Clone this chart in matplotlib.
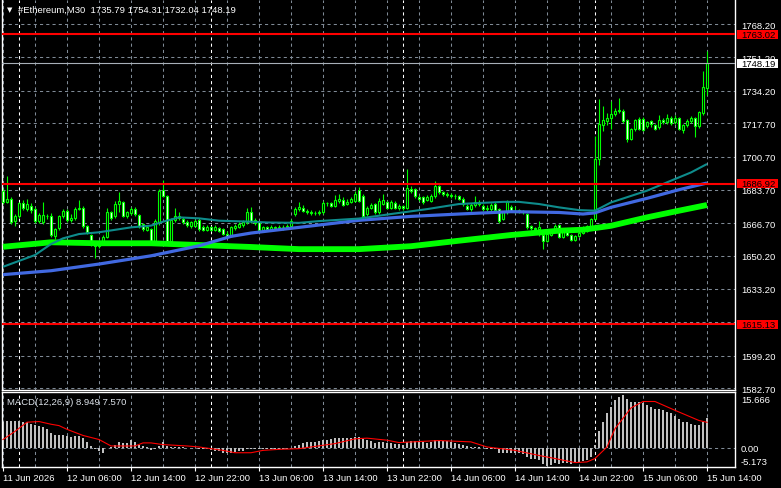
import matplotlib
matplotlib.use("Agg")
import matplotlib.pyplot as plt
import matplotlib.transforms as mtrans
from matplotlib.patches import Rectangle
import numpy as np

# ---- price data (30 min bars, 11 Jun 22:00 .. 15 Jun 14:00) ----
opens = [
    1683.3, 1677.3, 1679.3, 1667.9, 1670.2, 1676.8, 1673.9, 1675.6, 1673.9, 1667.9,
    1667.1, 1670.5, 1670.5, 1660.3, 1664.2, 1670.2, 1673.1, 1668.3, 1669.6, 1674.2,
    1674.7, 1665.4, 1660.5, 1656.0, 1655.0, 1656.9, 1659.5, 1672.2, 1670.5, 1676.5,
    1677.3, 1670.5, 1672.0, 1673.9, 1670.8, 1666.3, 1663.4, 1663.7, 1657.8, 1667.1,
    1683.8, 1680.4, 1657.8, 1668.5, 1670.5, 1669.1, 1667.4, 1665.4, 1665.4, 1668.2,
    1664.6, 1663.4, 1664.9, 1663.4, 1664.2, 1663.7, 1661.2, 1660.3, 1664.4, 1665.0,
    1665.7, 1667.1, 1672.5, 1666.8, 1667.1, 1663.2, 1664.6, 1663.7, 1664.6, 1664.2,
    1665.0, 1664.6, 1665.4, 1671.4, 1674.2, 1674.5, 1673.1, 1672.5, 1672.0, 1671.8,
    1672.2, 1676.8, 1676.8, 1675.6, 1677.8, 1678.7, 1676.4, 1677.6, 1678.1, 1683.8,
    1680.7, 1671.4, 1674.7, 1676.4, 1672.2, 1676.4, 1677.3, 1674.7, 1677.1, 1674.7,
    1675.6, 1674.7, 1684.4, 1684.1, 1680.2, 1679.9, 1678.7, 1678.1, 1680.4, 1685.5,
    1682.4, 1681.6, 1681.2, 1680.7, 1680.4, 1679.3, 1675.6, 1673.9, 1675.9, 1677.6,
    1675.6, 1673.9, 1673.9, 1676.4, 1673.9, 1669.1, 1672.2, 1675.1, 1673.1, 1673.0,
    1673.0, 1671.4, 1665.4, 1664.1, 1663.7, 1660.6, 1657.8, 1660.6, 1662.9, 1665.7,
    1659.5, 1662.0, 1660.6, 1658.3, 1660.0, 1661.7, 1662.9, 1665.4, 1669.1, 1699.4,
    1717.0, 1719.0, 1720.6, 1722.3, 1724.0, 1724.0, 1719.3, 1709.6, 1714.7, 1719.8,
    1719.8, 1716.4, 1718.9, 1716.7, 1715.6, 1719.3, 1718.1, 1720.6, 1718.1, 1720.1,
    1714.2, 1716.7, 1718.9, 1720.1, 1716.4, 1722.9, 1735.79]
closes = [
    1677.3, 1679.3, 1667.1, 1670.5, 1676.8, 1674.5, 1676.4, 1673.4, 1667.7, 1670.8,
    1670.8, 1670.2, 1660.6, 1663.7, 1670.2, 1672.7, 1668.3, 1669.6, 1674.2, 1674.5,
    1665.4, 1662.0, 1656.0, 1655.0, 1656.5, 1659.5, 1672.2, 1669.5, 1676.5, 1677.8,
    1670.5, 1672.2, 1673.9, 1671.4, 1665.4, 1663.7, 1664.6, 1657.8, 1667.9, 1683.3,
    1680.4, 1657.8, 1668.5, 1670.5, 1669.6, 1667.4, 1665.7, 1667.1, 1667.9, 1663.7,
    1663.2, 1664.9, 1663.4, 1664.6, 1662.9, 1661.2, 1660.3, 1664.6, 1665.4, 1666.3,
    1667.1, 1672.2, 1667.9, 1668.5, 1663.2, 1664.6, 1663.7, 1664.6, 1664.2, 1665.0,
    1664.6, 1665.4, 1667.9, 1674.2, 1675.0, 1673.1, 1672.5, 1672.0, 1671.8, 1672.5,
    1676.8, 1676.8, 1675.6, 1678.7, 1679.0, 1676.2, 1677.6, 1679.0, 1681.6, 1678.1,
    1670.5, 1674.7, 1675.9, 1672.2, 1678.1, 1678.7, 1674.7, 1677.6, 1674.7, 1675.6,
    1674.7, 1684.9, 1683.3, 1680.4, 1679.0, 1677.3, 1680.2, 1680.7, 1685.8, 1682.4,
    1681.6, 1681.2, 1680.7, 1680.4, 1679.3, 1676.4, 1674.2, 1675.9, 1677.6, 1676.4,
    1673.9, 1674.7, 1675.9, 1673.5, 1667.9, 1672.2, 1677.3, 1673.1, 1673.0, 1673.2,
    1672.5, 1664.6, 1664.1, 1663.7, 1664.6, 1657.8, 1661.2, 1662.9, 1665.4, 1659.5,
    1662.9, 1660.6, 1658.3, 1660.0, 1661.7, 1662.9, 1665.4, 1668.8, 1699.4, 1717.3,
    1719.3, 1720.6, 1722.3, 1724.0, 1724.2, 1718.9, 1709.9, 1714.7, 1719.3, 1714.7,
    1714.4, 1718.1, 1717.3, 1714.7, 1719.3, 1718.5, 1720.6, 1717.8, 1720.6, 1714.7,
    1716.7, 1718.9, 1720.1, 1716.4, 1723.2, 1735.9, 1748.19]
highs = [
    1684.5, 1690.9, 1680.0, 1671.5, 1677.5, 1678.5, 1679.0, 1677.0, 1675.0, 1672.0,
    1677.3, 1671.5, 1672.0, 1664.5, 1671.0, 1674.0, 1674.0, 1671.5, 1675.0, 1678.7,
    1675.5, 1666.0, 1661.0, 1657.5, 1658.0, 1660.5, 1674.5, 1673.0, 1678.0, 1682.4,
    1678.0, 1673.0, 1675.0, 1675.0, 1671.5, 1667.0, 1666.0, 1664.5, 1669.0, 1684.0,
    1688.9, 1681.0, 1669.5, 1674.5, 1672.5, 1670.0, 1668.5, 1668.0, 1669.0, 1669.5,
    1666.0, 1666.0, 1665.5, 1666.0, 1665.0, 1664.5, 1662.5, 1665.5, 1666.5, 1667.5,
    1668.5, 1674.7, 1675.0, 1669.5, 1668.0, 1665.5, 1665.5, 1666.0, 1665.5, 1666.0,
    1666.0, 1666.5, 1669.0, 1675.0, 1677.5, 1676.0, 1674.0, 1673.5, 1673.0, 1673.5,
    1678.0, 1677.5, 1677.5, 1681.0, 1681.5, 1680.0, 1679.0, 1680.0, 1683.0, 1685.0,
    1681.5, 1675.5, 1677.0, 1677.0, 1679.5, 1681.5, 1678.0, 1678.5, 1678.0, 1676.5,
    1676.0, 1694.6, 1685.5, 1684.5, 1681.0, 1680.5, 1681.0, 1681.5, 1688.3, 1686.0,
    1683.0, 1682.5, 1682.0, 1681.5, 1681.0, 1680.0, 1676.5, 1677.0, 1680.5, 1678.5,
    1676.5, 1676.0, 1677.0, 1677.5, 1674.5, 1673.0, 1678.5, 1676.0, 1675.5, 1674.0,
    1673.5, 1672.0, 1666.0, 1665.0, 1667.9, 1661.0, 1662.0, 1663.5, 1666.5, 1666.5,
    1663.5, 1663.0, 1661.0, 1660.5, 1662.5, 1665.5, 1666.0, 1669.5, 1711.3, 1730.0,
    1726.6, 1723.0, 1729.2, 1725.5, 1730.3, 1725.0, 1720.0, 1715.5, 1720.0, 1721.0,
    1721.0, 1719.0, 1719.5, 1717.5, 1722.0, 1720.5, 1722.5, 1721.5, 1722.0, 1721.0,
    1717.5, 1720.0, 1721.5, 1721.0, 1724.0, 1744.5, 1754.31]
lows = [
    1676.5, 1677.0, 1666.3, 1665.5, 1669.5, 1673.5, 1673.0, 1672.0, 1667.0, 1667.0,
    1666.5, 1669.0, 1659.5, 1658.5, 1663.5, 1669.5, 1667.5, 1667.5, 1668.5, 1673.5,
    1664.5, 1661.0, 1655.0, 1649.2, 1654.0, 1656.0, 1659.0, 1668.5, 1669.5, 1672.5,
    1670.0, 1669.5, 1671.0, 1670.5, 1664.5, 1663.0, 1662.5, 1656.5, 1656.5, 1666.0,
    1680.0, 1657.0, 1657.0, 1667.5, 1668.5, 1666.5, 1665.0, 1664.5, 1665.0, 1663.0,
    1662.5, 1662.5, 1662.5, 1662.5, 1662.0, 1660.5, 1659.5, 1659.5, 1663.5, 1664.5,
    1665.0, 1666.5, 1667.0, 1666.0, 1662.5, 1662.5, 1663.0, 1663.0, 1663.5, 1663.5,
    1663.5, 1664.0, 1664.5, 1670.5, 1673.0, 1672.5, 1671.5, 1671.0, 1671.0, 1671.0,
    1671.5, 1675.5, 1675.0, 1675.0, 1677.0, 1675.5, 1676.0, 1677.0, 1677.5, 1677.5,
    1670.0, 1670.5, 1674.0, 1671.5, 1671.5, 1676.0, 1674.0, 1674.0, 1674.0, 1673.5,
    1673.5, 1674.0, 1682.0, 1679.5, 1678.0, 1676.5, 1678.0, 1677.5, 1679.5, 1681.5,
    1680.5, 1680.0, 1679.5, 1679.0, 1678.5, 1675.5, 1673.5, 1673.0, 1675.0, 1675.5,
    1673.0, 1673.0, 1673.0, 1673.0, 1667.0, 1668.5, 1671.5, 1672.5, 1672.0, 1672.0,
    1671.5, 1664.0, 1663.5, 1663.0, 1660.3, 1653.5, 1657.0, 1660.0, 1662.5, 1659.0,
    1659.0, 1660.0, 1657.8, 1657.5, 1659.5, 1661.0, 1662.0, 1664.5, 1668.5, 1696.3,
    1713.9, 1717.0, 1714.7, 1721.5, 1723.0, 1718.0, 1707.9, 1709.0, 1713.9, 1714.0,
    1713.5, 1715.5, 1716.0, 1714.0, 1714.7, 1717.5, 1717.5, 1717.0, 1717.5, 1714.0,
    1712.5, 1716.0, 1718.0, 1710.5, 1715.5, 1722.0, 1732.04]

# moving averages, read at sample bars
teal_idx = [0, 8, 12, 15, 19, 24, 32, 37, 40, 44, 49, 54, 62, 66, 74, 79, 89, 97, 106,
            114, 125, 129, 134, 139, 144, 148, 152, 161, 167, 172, 176]
teal_val = [1644.5, 1650.5, 1656.1, 1659.0, 1661.2, 1662.1, 1664.6, 1665.5, 1667.5,
            1669.7, 1669.2, 1668.0, 1667.5, 1667.1, 1666.9, 1667.8, 1669.1, 1671.4,
            1673.9, 1676.5, 1677.6, 1677.6, 1676.5, 1674.8, 1673.4, 1673.1, 1677.3,
            1683.3, 1688.4, 1692.6, 1696.9]
blue_idx = [0, 12, 24, 37, 49, 57, 62, 74, 89, 102, 114, 127, 139, 145, 148, 152, 161, 169, 176]
blue_val = [1640.5, 1642.5, 1645.9, 1650.1, 1655.2, 1660.0, 1661.7, 1664.6, 1668.2,
            1670.2, 1671.4, 1672.6, 1672.2, 1671.4, 1672.0, 1674.8, 1679.4, 1683.8, 1687.2]
lime_idx = [0, 12, 24, 37, 49, 62, 74, 89, 102, 114, 127, 139, 145, 152, 161, 169, 176]
lime_val = [1654.7, 1657.0, 1656.5, 1656.5, 1655.6, 1654.6, 1653.5, 1653.5, 1655.0,
            1657.8, 1660.7, 1662.9, 1663.4, 1665.4, 1669.7, 1673.1, 1676.0]

# MACD(12,26,9) main values (histogram) and signal line samples
macd = [
    7.7, 8.1, 8.1, 8.1, 8.1, 7.8, 7.7, 7.1, 6.8, 6.5,
    6.1, 5.7, 4.5, 3.7, 3.7, 3.7, 3.5, 3.2, 3.4, 3.4,
    3.0, 1.8, 0.6, -0.2, -1.0, -1.4, 0.05, 0.3, 1.0, 1.8,
    1.5, 1.5, 2.3, 1.8, 1.0, 0.6, 0.3, -0.7, -0.2, 0.6,
    1.8, 0.6, 0.3, 0.3, 0.3, 0.2, 0.05, -0.05, 0.05, -0.2,
    -0.4, -0.4, -0.6, -0.8, -1.0, -1.4, -1.6, -1.4, -1.2, -1.0,
    -1.0, -0.4, -0.4, -0.3, -0.4, -0.3, -0.4, -0.4, -0.3, -0.3,
    -0.4, -0.2, 0.1, 0.6, 1.0, 1.5, 1.8, 1.8, 1.8, 2.0,
    2.3, 2.5, 2.7, 3.0, 3.0, 3.0, 3.0, 3.0, 3.2, 3.2,
    2.7, 2.3, 2.0, 1.5, 1.8, 1.8, 1.5, 1.5, 1.3, 1.3,
    1.0, 1.8, 2.2, 2.2, 2.0, 1.8, 1.5, 1.8, 2.3, 2.3,
    2.2, 2.0, 1.8, 1.5, 1.3, 1.0, 0.6, 0.4, 0.4, 0.3,
    -0.05, -0.2, -0.4, -0.4, -1.4, -1.5, -1.4, -1.4, -1.5, -1.6,
    -1.8, -2.6, -3.2, -3.3, -3.5, -4.7, -5.173, -4.9, -4.5, -4.7,
    -4.5, -4.5, -4.7, -4.5, -4.2, -3.9, -3.4, -2.8, 0.8, 4.9,
    7.8, 10.4, 12.1, 14.0, 15.0, 15.666, 14.5, 13.5, 13.7, 13.7,
    13.3, 12.7, 12.1, 11.5, 11.4, 11.1, 10.6, 10.4, 9.4, 8.4,
    7.8, 7.7, 7.1, 6.7, 6.7, 7.7, 8.949]
signal_idx = [0, 3, 6, 9, 12, 14, 16, 20, 24, 27, 30, 33, 35, 37, 40, 46, 49, 52, 55,
              58, 62, 65, 69, 74, 83, 88, 91, 96, 99, 109, 113, 117, 121, 128, 134,
              138, 143, 146, 148, 151, 153, 157, 160, 163, 168, 174, 176]
signal_val = [2.5, 4.9, 7.6, 7.8, 7.0, 6.6, 5.5, 3.7, 2.5, 0.6, 0.6, 0.6, 1.5, 1.5, 1.0,
              0.6, 0.3, -0.2, -0.7, -1.4, -1.4, -0.7, -0.4, -0.2, 1.3, 2.7, 2.9, 2.3,
              1.6, 2.2, 2.0, 1.8, 0.3, -0.7, -2.2, -3.1, -4.3, -4.1, -3.1, 0.3, 5.7,
              11.8, 13.7, 13.7, 11.1, 8.1, 7.57]

price_ticks = [1768.20, 1751.20, 1734.20, 1717.70, 1700.70, 1683.70, 1666.70,
               1650.20, 1633.20, 1616.20, 1599.20, 1582.70]
red_levels = [1763.02, 1686.92, 1615.13]
last_price = 1748.19
time_labels = ['11 Jun 2026', '12 Jun 06:00', '12 Jun 14:00', '12 Jun 22:00',
               '13 Jun 06:00', '13 Jun 14:00', '13 Jun 22:00', '14 Jun 06:00',
               '14 Jun 14:00', '14 Jun 22:00', '15 Jun 06:00', '15 Jun 14:00']
day_starts = [4, 52, 100, 148]

# ---- figure ----
W, H = 781, 489
plt.rcParams['font.family'] = ['Liberation Sans', 'DejaVu Sans']
fs = 6.8
fig = plt.figure(figsize=(W / 100, H / 100), dpi=100, facecolor='black')


def px_axes(l, t, r, b):
    return fig.add_axes([l / W, 1 - b / H, (r - l) / W, (b - t) / H])


ax = px_axes(2, 1, 735, 391)
ax2 = px_axes(2, 393, 735, 468)

grid_c = '#7F8A96'
dash = (0, (3, 3))
n = len(closes)
idx = np.arange(n)
xl = (-0.25, 183)

for a in (ax, ax2):
    a.set_facecolor('black')
    a.set_xlim(*xl)
    for s in a.spines.values():
        s.set_color('white')
        s.set_linewidth(1.0)
    for i in range(0, 184, 8):
        a.axvline(i, color=grid_c, lw=0.75, ls=dash, zorder=0)
    for i in day_starts:
        a.axvline(i, color='white', lw=0.75, ls=dash, zorder=0)
ax.spines['top'].set_visible(False)

# main panel
ax.set_ylim(1581.7, 1780.5)
for p in price_ticks:
    ax.axhline(p, color=grid_c, lw=0.75, ls=dash, zorder=0)

o = np.array(opens)
c = np.array(closes)
ax.vlines(idx, lows, highs, color='#00FF00', lw=0.8, zorder=2)
body_lo = np.minimum(o, c)
body_h = np.abs(c - o)
fills = np.where(c >= o, 'black', 'white')
ax.bar(idx, body_h, bottom=body_lo, width=0.64, color=fills, edgecolor='#00FF00',
       linewidth=0.8, zorder=3)

ax.plot(lime_idx, lime_val, color='#00FF00', lw=4.2, solid_capstyle='butt', zorder=4)
ax.plot(blue_idx, blue_val, color='#4169E1', lw=2.3, solid_capstyle='butt', zorder=4)
ax.plot(teal_idx, teal_val, color='#0E8C8C', lw=1.5, solid_capstyle='butt', zorder=4)

for lv in red_levels:
    ax.axhline(lv, color='#FF0000', lw=1.5, zorder=5)
ax.axhline(last_price, color='#A8B0B8', lw=0.8, zorder=5)

ax.set_xticks([])
ax.yaxis.tick_right()
ax.set_yticks(price_ticks)
ax.set_yticklabels([f'{p:.2f}' for p in price_ticks])
ax.tick_params(axis='y', colors='white', labelsize=fs, length=0, pad=4.3)

bt = mtrans.blended_transform_factory(ax.transAxes, ax.transData)
for lv, bg in [(1763.02, '#FF0000'), (1686.92, '#FF0000'), (1615.13, '#FF0000'),
               (last_price, 'white')]:
    ax.add_patch(Rectangle(((737 - 2) / 733, lv - 2.35), 41 / 733, 4.7, transform=bt,
                           facecolor=bg, edgecolor='none', clip_on=False, zorder=6))
    ax.text((741 - 2) / 733, lv, f'{lv:.2f}', transform=bt, color='black', fontsize=fs,
            va='center', ha='left', clip_on=False, zorder=7)

fig.text(7 / W, 1 - 10 / H, '\u25BC', color='white', fontsize=5, va='center', ha='left',
         family='DejaVu Sans')
fig.text(18 / W, 1 - 10 / H, '#Ethereum,M30  1735.79 1754.31 1732.04 1748.19',
         color='white', fontsize=fs, va='center', ha='left')

# MACD panel
ax2.set_ylim(-5.6, 16.5)
ax2.axhline(0, color=grid_c, lw=0.75, ls=dash, zorder=0)
ax2.bar(idx, macd, width=0.72, color='#C0C0C0', zorder=2)
ax2.plot(signal_idx, signal_val, color='#FF0000', lw=0.8, zorder=3)
ax2.text(5 / 733, 0.87, 'MACD(12,26,9) 8.949 7.570', transform=ax2.transAxes,
         color='#DDE3EA', fontsize=fs, va='center', ha='left')

ax2.yaxis.tick_right()
ax2.set_yticks([15.666, 0.0, -5.173])
ax2.set_yticklabels(['15.666', '0.00', '-5.173'])
ax2.tick_params(axis='y', colors='white', labelsize=fs, length=0, pad=4.3)
ylabs = ax2.get_yticklabels()
ylabs[0].set_va('top')
ylabs[2].set_va('bottom')

ax2.set_xticks(list(range(0, 177, 16)))
ax2.set_xticklabels(time_labels)
ax2.tick_params(axis='x', colors='white', labelsize=fs, length=3, width=0.8, pad=1.5)
for lbl in ax2.get_xticklabels():
    lbl.set_ha('left')

fig.savefig('out.png', dpi=100, facecolor='black')
